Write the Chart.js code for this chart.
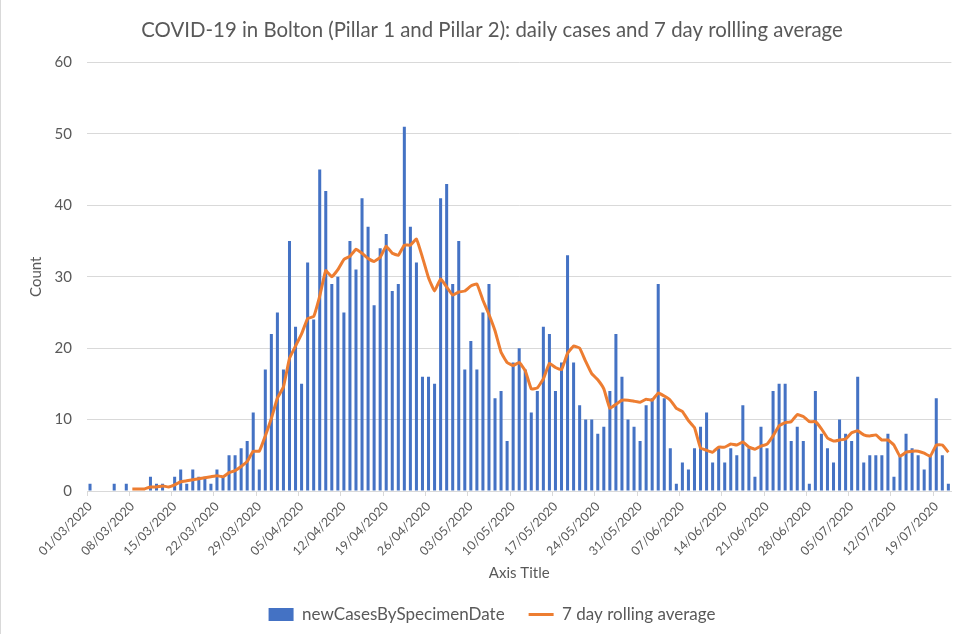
<!DOCTYPE html>
<html>
<head>
<meta charset="utf-8">
<title>COVID-19 in Bolton</title>
<script src="https://cdn.jsdelivr.net/npm/chart.js@4/dist/chart.umd.min.js"></script>
<style>
  html, body { margin: 0; padding: 0; background: #fff; }
  #wrap { width: 962px; height: 634px; position: relative; box-sizing: border-box; border-left: 1px solid #d9d9d9; }
</style>
</head>
<body>
<div id="wrap"><canvas id="chart" width="961" height="634"></canvas></div>
<script>
// daily cases, one per day from 01/03/2020 to 21/07/2020
const newCases = [
  1, 0, 0, 0, 1, 0, 1, 0, 0, 0, 2, 1, 1, 0,
  2, 3, 1, 3, 2, 2, 1, 3, 2, 5, 5, 6, 7, 11,
  3, 17, 22, 25, 17, 35, 23, 15, 32, 24, 45, 42, 29, 30,
  25, 35, 31, 41, 37, 26, 34, 36, 28, 29, 51, 37, 32, 16,
  16, 15, 41, 43, 29, 35, 17, 21, 17, 25, 29, 13, 14, 7,
  18, 20, 17, 11, 14, 23, 22, 14, 18, 33, 18, 12, 10, 10,
  8, 9, 14, 22, 16, 10, 9, 7, 12, 13, 29, 13, 6, 1,
  4, 3, 6, 9, 11, 4, 6, 4, 6, 5, 12, 6, 2, 9,
  6, 14, 15, 15, 7, 9, 7, 1, 14, 8, 6, 4, 10, 8,
  7, 16, 4, 5, 5, 5, 8, 2, 5, 8, 6, 5, 3, 5,
  13, 5, 1
];

// orange line
const rollingAvg = [
  null, null, null, null, null, null, null, 0.29, 0.29, 0.29, 0.57, 0.57, 0.71, 0.57,
  0.86, 1.29, 1.43, 1.57, 1.71, 1.86, 2.0, 2.14, 2.0, 2.57, 2.86, 3.43, 4.14, 5.57,
  5.57, 7.71, 10.14, 13.0, 14.57, 18.57, 20.29, 22.0, 24.14, 24.43, 27.29, 30.86, 30.0, 31.0,
  32.43, 32.86, 33.86, 33.29, 32.57, 32.14, 32.71, 34.29, 33.29, 33.0, 34.43, 34.43, 35.29, 32.71,
  29.86, 28.0, 29.71, 28.57, 27.43, 27.86, 28.0, 28.71, 29.0, 26.71, 24.71, 22.43, 19.43, 18.0,
  17.57, 18.0, 16.86, 14.29, 14.43, 15.71, 17.86, 17.29, 17.0, 19.29, 20.29, 20.0, 18.14, 16.43,
  15.57, 14.29, 11.57, 12.14, 12.71, 12.71, 12.57, 12.43, 12.86, 12.71, 13.71, 13.29, 12.71, 11.57,
  11.14, 9.86, 8.86, 6.0, 5.71, 5.43, 6.14, 6.14, 6.57, 6.43, 6.86, 6.14, 5.86, 6.29,
  6.57, 7.71, 9.14, 9.57, 9.71, 10.71, 10.43, 9.71, 9.71, 8.71, 7.43, 7.0, 7.14, 7.29,
  8.14, 8.43, 7.86, 7.71, 7.86, 7.14, 7.14, 6.43, 4.86, 5.43, 5.57, 5.57, 5.29, 4.86,
  6.43, 6.43, 5.43
];

const tickLabels = [
  '01/03/2020', '08/03/2020', '15/03/2020', '22/03/2020', '29/03/2020', '05/04/2020',
  '12/04/2020', '19/04/2020', '26/04/2020', '03/05/2020', '10/05/2020', '17/05/2020',
  '24/05/2020', '31/05/2020', '07/06/2020', '14/06/2020', '21/06/2020', '28/06/2020',
  '05/07/2020', '12/07/2020', '19/07/2020'
];

// one category per day
const days = [];
for (let i = 0; i < newCases.length; i++) {
  const d = new Date(Date.UTC(2020, 2, 1 + i));
  const dd = String(d.getUTCDate()).padStart(2, '0');
  const mm = String(d.getUTCMonth() + 1).padStart(2, '0');
  days.push(dd + '/' + mm + '/' + d.getUTCFullYear());
}

const grey = '#595959';
const font = 'Lato, "Open Sans", sans-serif';

new Chart(document.getElementById('chart'), {
  data: {
    labels: days,
    datasets: [
      {
        type: 'bar',
        label: 'newCasesBySpecimenDate',
        data: newCases,
        backgroundColor: '#4472C4',
        borderWidth: 0,
        barPercentage: 0.5,
        categoryPercentage: 1.0,
        pointStyle: 'rect',
        order: 2
      },
      {
        type: 'line',
        label: '7 day rolling average',
        data: rollingAvg,
        borderColor: '#ED7D31',
        backgroundColor: '#ED7D31',
        borderWidth: 3,
        pointRadius: 0,
        tension: 0.1,
        pointStyle: 'line',
        order: 1
      }
    ]
  },
  options: {
    responsive: false,
    animation: false,
    // left padding larger than right so title and legend centre where the original does
    layout: { padding: { left: 30, right: 9, bottom: 1 } },
    plugins: {
      title: {
        display: true,
        text: 'COVID-19 in Bolton (Pillar 1 and Pillar 2): daily cases and 7 day rollling average',
        color: grey,
        font: { family: font, size: 20.4, weight: 'normal' },
        padding: { top: 18, bottom: 20 }
      },
      legend: {
        position: 'bottom',
        labels: {
          usePointStyle: true,
          pointStyleWidth: 25,
          boxHeight: 13,
          padding: 24,
          color: grey,
          font: { family: font, size: 17 },
          sort: (a, b) => a.datasetIndex - b.datasetIndex
        }
      },
      tooltip: { enabled: false }
    },
    scales: {
      x: {
        offset: true,
        grid: {
          offset: true,
          drawOnChartArea: false,
          drawTicks: true,
          tickLength: 5,
          color: ctx => (ctx.index % 7 === 0 ? '#d9d9d9' : 'rgba(0,0,0,0)')
        },
        border: { display: true, color: '#d9d9d9' },
        ticks: {
          autoSkip: false,
          minRotation: 45,
          maxRotation: 45,
          padding: 3,
          color: grey,
          font: { family: font, size: 12.5 },
          callback: function (value) {
            const lab = this.getLabelForValue(value);
            return tickLabels.includes(lab) ? lab : '';
          }
        },
        title: {
          display: true,
          text: 'Axis Title',
          color: grey,
          font: { family: font, size: 15 },
          padding: { top: 0, bottom: 0 }
        },
        afterFit: scale => { scale.height = 91; }
      },
      y: {
        min: 0,
        max: 60,
        grid: { color: '#d9d9d9', drawTicks: false },
        border: { display: false },
        ticks: {
          stepSize: 10,
          padding: 15,
          color: grey,
          font: { family: font, size: 15 }
        },
        title: {
          display: true,
          text: 'Count',
          color: grey,
          font: { family: font, size: 15 },
          padding: { top: -4 }
        },
        afterFit: scale => { scale.width = 56; }
      }
    }
  }
});
</script>
</body>
</html>
